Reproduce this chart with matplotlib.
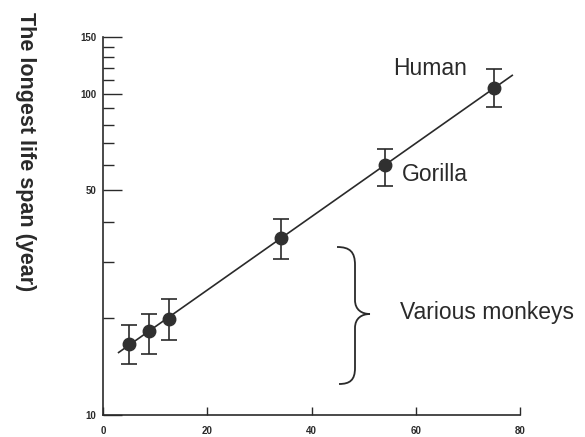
import numpy as np
import matplotlib
matplotlib.use("Agg")
import matplotlib.pyplot as plt
from matplotlib.path import Path
from matplotlib.patches import PathPatch
from matplotlib.ticker import FixedLocator, NullFormatter, FixedFormatter

# data
body_weight = [5.0, 8.8, 12.6, 34.2, 54.1, 75.0]
life_span = [16.6, 18.3, 19.9, 35.6, 60.0, 104.0]
err_low = [14.4, 15.5, 17.1, 30.6, 51.7, 90.6]
err_high = [19.05, 20.6, 22.9, 40.7, 67.2, 119.0]
fit_range = [3.0, 78.5]
x_ticks = [0, 20, 40, 60, 80]
y_major = [10, 50, 100, 150]
y_minor = [20, 30, 40, 60, 70, 80, 90, 110, 120, 130, 140]
labels = {"Human": (55.6, 120), "Gorilla": (57.4, 56)}

plt.rcParams['font.family'] = ['Liberation Sans', 'DejaVu Sans']
ink = '#2a2a2a'

fig = plt.figure(figsize=(5.85, 4.37), dpi=100)
ax = fig.add_axes([0.176, 0.0503, 0.713, 0.865])
ax.set_yscale('log')
ax.set_xlim(0, 80)
ax.set_ylim(10, 150)

x = np.array(body_weight)
y = np.array(life_span)
b, a = np.polyfit(x, np.log10(y), 1)
xf = np.linspace(fit_range[0], fit_range[1], 50)
ax.plot(xf, 10 ** (a + b * xf), color=ink, lw=1.2, zorder=2)

yerr = [y - np.array(err_low), np.array(err_high) - y]
ax.errorbar(x, y, yerr=yerr, fmt='o', color=ink, ms=9, mfc='#303030',
            mec='#303030', ecolor=ink, elinewidth=1.2, capsize=6, capthick=1.2,
            zorder=3)

for name, (lx, ly) in labels.items():
    ax.text(lx, ly, name, fontsize=16.5, color=ink, ha='left', va='center')
ax.text(0.684, 0.284, "Various monkeys", transform=fig.transFigure, fontsize=16.5,
        color=ink, ha='left', va='center')

# brace (in figure pixel coords)
def P(px, py):
    return (px / 585.0, 1 - py / 437.0)
verts = [P(337, 247), P(350, 247), P(355, 252), P(355, 265),
         P(355, 300), P(355, 310), P(362, 314), P(370, 314),
         P(362, 314), P(355, 318), P(355, 328),
         P(355, 368), P(355, 380), P(350, 384), P(339, 384)]
codes = [Path.MOVETO, Path.CURVE4, Path.CURVE4, Path.CURVE4,
         Path.LINETO, Path.CURVE4, Path.CURVE4, Path.CURVE4,
         Path.CURVE4, Path.CURVE4, Path.CURVE4,
         Path.LINETO, Path.CURVE4, Path.CURVE4, Path.CURVE4]
fig.patches.append(PathPatch(Path(verts, codes), transform=fig.transFigure,
                             fill=False, edgecolor=ink, lw=1.3))

for s in ['top', 'right']:
    ax.spines[s].set_visible(False)
for s in ['left', 'bottom']:
    ax.spines[s].set_color(ink)
    ax.spines[s].set_linewidth(1.2)

ax.set_xticks(x_ticks)
ax.set_xticklabels([str(t) for t in x_ticks], fontsize=7, fontweight='bold', color=ink)
ax.tick_params(axis='x', direction='in', length=6, width=1, color=ink, pad=8)

ax.yaxis.set_major_locator(FixedLocator(y_major))
ax.yaxis.set_major_formatter(FixedFormatter([str(t) for t in y_major]))
ax.yaxis.set_minor_locator(FixedLocator(y_minor))
ax.yaxis.set_minor_formatter(NullFormatter())
ax.tick_params(axis='y', which='major', direction='in', length=14, width=1, color=ink,
               labelsize=7, pad=5)
ax.tick_params(axis='y', which='minor', direction='in', length=8, width=1, color=ink)
for lbl in ax.get_yticklabels():
    lbl.set_fontweight('bold')
    lbl.set_color(ink)

fig.text(0.043, 0.652, "The longest life span (year)", rotation=270, fontsize=15.5,
         fontweight='bold', color=ink, ha='center', va='center')

fig.savefig('out.png', dpi=100)
